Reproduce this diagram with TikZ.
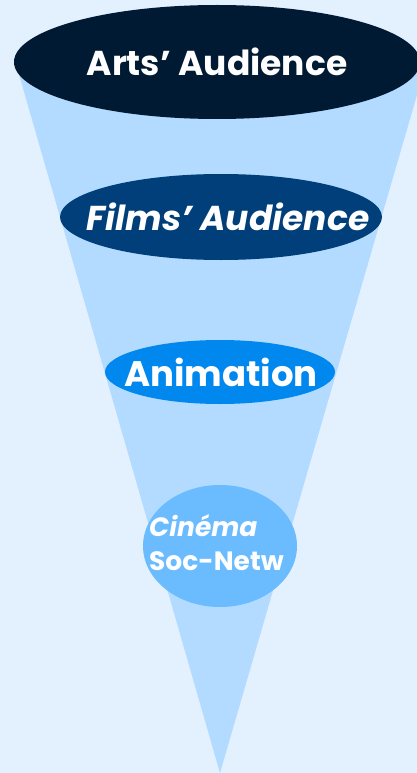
\documentclass[tikz,border=0pt]{standalone}
\usepackage{fontspec}
\setmainfont{Poppins}
\usetikzlibrary{shapes.geometric}
\definecolor{bg}{HTML}{E3F1FF}
\definecolor{funnel}{HTML}{B3DAFF}
\definecolor{c1}{HTML}{001A33}
\definecolor{c2}{HTML}{003F7A}
\definecolor{c3}{HTML}{0088EE}
\definecolor{c4}{HTML}{6BBBFF}
\tikzset{
  stage/.style={ellipse, inner sep=0pt, draw=none},
  lbl/.style={text=white, inner sep=0pt},
}
\begin{document}
\begin{tikzpicture}[x=1pt,y=-1pt]
\fill[bg] (0,0) rectangle (417,773);
\useasboundingbox (0,0) rectangle (417,773);
\coordinate (tl) at (16,64);
\coordinate (tr) at (426,64);
\coordinate (tip) at (220,773);
\fill[funnel] (tl) -- (tr) -- (tip) -- cycle;
\node[stage, fill=c1, minimum width=406pt, minimum height=114pt] (arts) at (217,62) {};
\node[lbl, font=\bfseries\fontsize{34.5}{38}\selectfont] (artstext) at (arts.center) {Arts’ Audience};
\node[stage, fill=c2, minimum width=322pt, minimum height=86pt] (films) at (221,217) {};
\node[lbl, font=\bfseries\itshape\fontsize{34.5}{38}\selectfont] (filmstext) at (228,217) {Films’ Audience};
\node[stage, fill=c3, minimum width=230pt, minimum height=64pt] (anim) at (220,372) {};
\node[lbl, font=\bfseries\fontsize{35.5}{38}\selectfont] (animtext) at (221,372) {Animation};
\node[stage, fill=c4, minimum width=154pt, minimum height=122pt] (cine) at (220,546) {};
\node[lbl, font=\bfseries\fontsize{26.5}{34}\selectfont, align=left, anchor=west] (cinetext) at (149,543) {\textit{Cinéma}\\Soc-Netw};
\end{tikzpicture}
\end{document}
